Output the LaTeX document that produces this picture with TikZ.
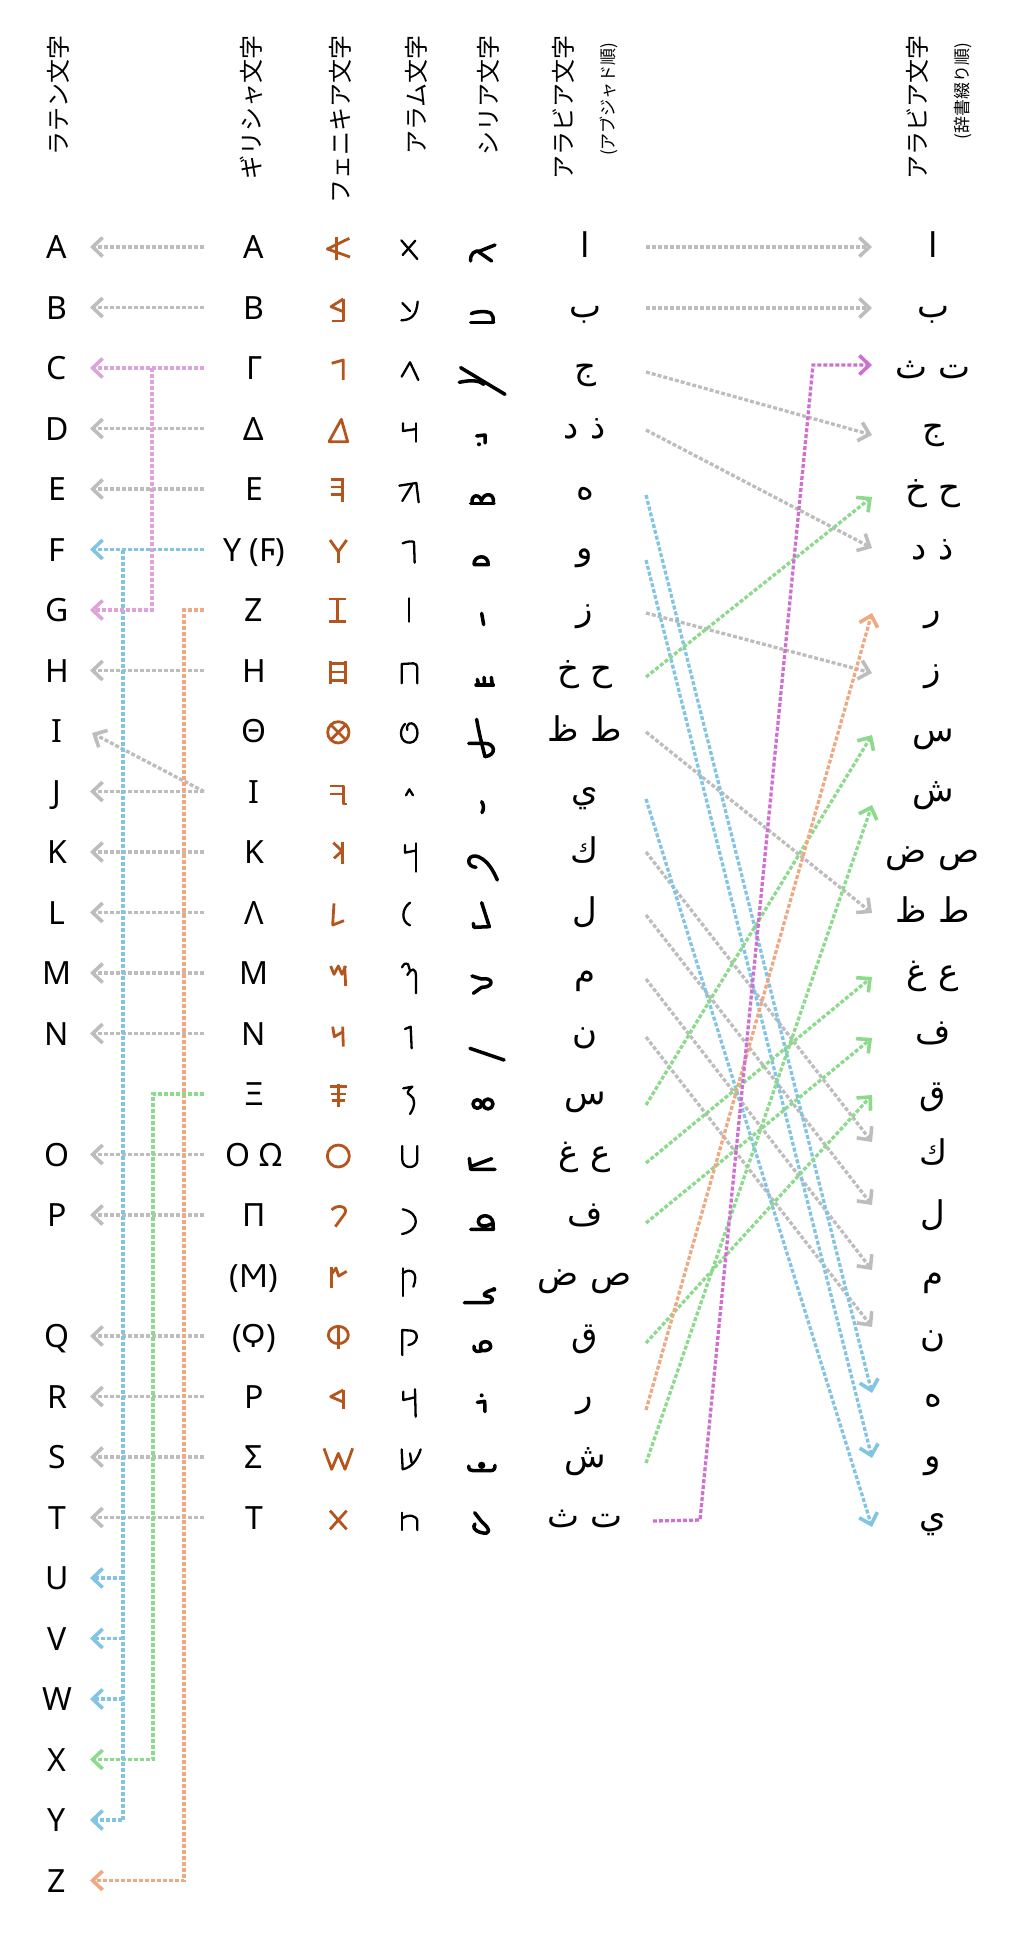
\documentclass[tikz,border=0pt]{standalone}
\usepackage{fontspec}
\setmainfont{Noto Sans}
\newfontfamily\jpfont{Noto Sans CJK JP}
\newfontfamily\arabicfont[Script=Arabic]{DejaVu Sans}
\TeXXeTstate=1
\usetikzlibrary{arrows.meta}
\definecolor{gr}{HTML}{BDBDBD}
\definecolor{pk}{HTML}{E0A2DB}
\definecolor{mg}{HTML}{CF6FCF}
\definecolor{bl}{HTML}{82C4E3}
\definecolor{gn}{HTML}{8CDA8C}
\definecolor{og}{HTML}{EEA882}
\definecolor{phx}{HTML}{B5551E}
\newcommand\myar[1]{\beginR #1\endR}
\newcommand\mypr[2]{#1\hskip0.35em #2}
\begin{document}
\begin{tikzpicture}[x=1pt,y=-1pt,
  lat/.style={font=\fontsize{32}{32}\selectfont, inner sep=0pt, anchor=base},
  ara/.style={font=\arabicfont\fontsize{34}{34}\selectfont, inner sep=0pt, anchor=base},
  hd/.style={font=\jpfont\fontsize{24}{24}\selectfont, inner sep=0pt, anchor=east, rotate=90},
  hds/.style={font=\jpfont\fontsize{17}{17}\selectfont, inner sep=0pt, anchor=east, rotate=90},
  con/.style={line width=3.3pt, dash pattern=on 4pt off 2pt},
  tip/.style={-{Straight Barb[length=10pt,width=19pt,line width=3.6pt]}},
  ph/.style={draw=phx, line width=2.8pt, line join=round},
  arm/.style={draw=black, line width=2.3pt, line cap=round, line join=round},
  sy/.style={draw=black, line width=3.5pt, line cap=round, line join=round},
]
\useasboundingbox (0,0) rectangle (1013,1937);

% headers
\node[hd] (hLat) at (58,35) {ラテン文字};
\node[hd] (hGr) at (251,35) {ギリシャ文字};
\node[hd] (hPh) at (340,35) {フェニキア文字};
\node[hd] (hAm) at (416,35) {アラム文字};
\node[hd] (hSy) at (488,35) {シリア文字};
\node[hd] (hAb) at (563,35) {アラビア文字};
\node[hds] (hAbs) at (609,43) {(アブジャド順)};
\node[hd] (hHi) at (917,35) {アラビア文字};
\node[hds] (hHis) at (963,43) {(辞書綴り順)};

% Latin
\foreach \l/\r in {A/0,B/1,C/2,D/3,E/4,F/5,G/6,H/7,I/8,J/9,K/10,L/11,M/12,N/13,O/15,P/16,Q/18,R/19,S/20,T/21,U/22,V/23,W/24,X/25,Y/26,Z/27}
  \node[lat] (L\r) at (57,{258.5+60.5*\r}) {\l};

% Greek
\foreach \g [count=\i from 0] in {Α,Β,Γ,Δ,Ε,{Υ (Ϝ)},Ζ,Η,Θ,Ι,Κ,Λ,Μ,Ν,Ξ,{Ο Ω},Π,{(Ϻ)},{(Ϙ)},Ρ,Σ,Τ}
  \node[lat] (G\i) at (254,{258.5+60.5*\i}) {\g};

% Arabic abjad order
\foreach \a [count=\i from 0] in {ا,ب,ج,{\mypr{ذ}{د}},ه,و,ز,{\mypr{ح}{خ}},{\mypr{ط}{ظ}},ي,ك,ل,م,ن,س,{\mypr{ع}{غ}},ف,{\mypr{ص}{ض}},ق,ر,ش,{\mypr{ت}{ث}}}
  \node[ara] (B\i) at (585,{257+60.5*\i}) {\myar{\a}};

% Arabic dictionary order
\foreach \a [count=\i from 0] in {ا,ب,{\mypr{ت}{ث}},ج,{\mypr{ح}{خ}},{\mypr{ذ}{د}},ر,ز,س,ش,{\mypr{ص}{ض}},{\mypr{ط}{ظ}},{\mypr{ع}{غ}},ف,ق,ك,ل,م,ن,ه,و,ي}
  \node[ara] (D\i) at (933,{257+60.5*\i}) {\myar{\a}};

% ---------- Phoenician / Aramaic / Syriac glyphs ----------
\begin{scope}[shift={(180,175)},x=0.33333pt,y=-0.33333pt]
  % Phoenician
  \draw[ph] (508,190) -- (442,222) -- (510,246); \draw[ph] (470,186) -- (470,256);
  \draw[ph] (490,372) -- (453,395) -- (490,410); \draw[ph] (490,372) -- (490,438) -- (455,438);
  \draw[ph] (455,565) -- (490,555) -- (490,615);
  \draw[ph] (447,800) -- (484,733) -- (503,800) -- cycle;
  \draw[ph] (487,908) -- (487,980); \draw[ph] (452,914) -- (487,914); \draw[ph] (452,936) -- (487,936); \draw[ph] (452,958) -- (487,958);
  % Aramaic
  \draw[arm] (664,196) -- (712,252); \draw[arm] (706,197) -- (668,240);
  \draw[arm] (667,384) -- (690,408); \draw[arm] (713,380) .. controls (710,420) and (695,435) .. (664,436);
  \draw[arm] (665,605) -- (690,562) -- (715,615);
  \draw[arm] (669,745) -- (669,768) -- (709,762); \draw[arm] (709,745) -- (709,800);
  \draw[arm] (658,932) -- (709,924) -- (716,982); \draw[arm] (696,930) -- (667,978);
  % Syriac
  \draw[sy] (872,258) .. controls (870,235) and (885,226) .. (900,228) -- (945,210); \draw[sy] (895,230) -- (935,258);
  \draw[sy] (874,416) .. controls (890,408) and (920,408) .. (932,414) .. controls (940,420) and (940,430) .. (939,442); \draw[sy] (872,442) -- (941,442);
  \draw[sy] (842,578) -- (975,658); \draw[sy] (838,622) .. controls (870,615) and (895,615) .. (912,628);
  \draw[sy] (890,783) -- (915,780) -- (915,804); \fill (897,808) circle (6);
  \draw[sy] (872,985) -- (942,985); \draw[sy] (876,985) .. controls (872,955) and (905,955) .. (905,985); \draw[sy] (905,975) .. controls (915,950) and (945,955) .. (940,985);
\end{scope}

\begin{scope}[shift={(180,530)},x=0.33333pt,y=-0.33333pt]
  % Phoenician
  \draw[ph] (450,30) -- (475,65) -- (500,30); \draw[ph] (475,65) -- (475,100);
  \draw[ph] (448,207) -- (498,207); \draw[ph] (473,207) -- (473,274); \draw[ph] (448,274) -- (498,274);
  \draw[ph] (452,392) -- (452,462); \draw[ph] (497,392) -- (497,462); \draw[ph] (452,400) -- (497,400); \draw[ph] (452,426) -- (497,426); \draw[ph] (452,452) -- (497,452);
  \draw[ph] (475,607) circle (32); \draw[ph] (452,584) -- (498,630); \draw[ph] (498,584) -- (452,630);
  \draw[ph] (450,768) -- (490,768) -- (490,822) -- (500,822); \draw[ph] (450,792) -- (490,792);
  \draw[ph] (487,935) -- (487,1002); \draw[ph] (460,938) -- (486,963) -- (462,985);
  % Aramaic
  \draw[arm] (668,40) .. controls (685,33) and (695,33) .. (702,36) -- (704,98);
  \draw[arm] (688,205) -- (688,275);
  \draw[arm] (665,460) -- (665,402) -- (700,400) .. controls (712,402) and (712,410) .. (712,420) -- (712,460);
  \draw[arm] (675,582) .. controls (655,600) and (660,640) .. (690,638) .. controls (720,636) and (718,585) .. (695,580) .. controls (685,578) and (678,590) .. (682,600);
  \draw[arm] (678,796) -- (688,778) -- (699,796);
  \draw[arm] (675,945) -- (675,968) -- (706,962); \draw[arm] (707,940) -- (707,1025);
  % Syriac
  \draw[sy] (882,104) .. controls (880,75) and (925,70) .. (925,104) -- (884,104);
  \draw[sy] (905,250) -- (911,284);
  \draw[sy] (888,465) -- (940,465); \draw[sy] (892,448) -- (896,465); \draw[sy] (912,442) -- (914,465); \draw[sy] (934,442) -- (937,465);
  \draw[sy] (890,568) .. controls (895,600) and (905,640) .. (915,680); \draw[sy] (866,640) -- (915,640) .. controls (945,640) and (952,675) .. (915,680);
  \draw[sy] (905,815) .. controls (912,825) and (912,838) .. (906,848);
  \draw[sy] (888,1012) .. controls (858,1010) and (860,975) .. (888,978) .. controls (915,985) and (935,1010) .. (952,1050);
\end{scope}

\begin{scope}[shift={(180,880)},x=0.33333pt,y=-0.33333pt]
  % Phoenician
  \draw[ph] (462,70) -- (458,135) -- (492,122);
  \draw[ph] (452,258) -- (462,283) -- (475,258) -- (486,283) -- (497,258); \draw[ph] (494,258) -- (497,318);
  \draw[ph] (458,440) -- (463,470) -- (488,456); \draw[ph] (488,440) -- (490,500);
  \draw[ph] (475,612) -- (475,680); \draw[ph] (450,620) -- (500,620); \draw[ph] (452,642) -- (498,642); \draw[ph] (456,662) -- (494,662);
  \draw[ph] (475,828) circle (33);
  \draw[ph] (455,990) .. controls (470,972) and (505,978) .. (495,1000) -- (466,1040);
  % Aramaic
  \draw[arm] (690,68) .. controls (665,85) and (662,125) .. (690,136);
  \draw[arm] (666,262) .. controls (672,250) and (678,248) .. (684,252) -- (690,272); \draw[arm] (682,285) .. controls (695,262) and (708,262) .. (708,290) -- (708,340);
  \draw[arm] (675,447) -- (692,440) -- (695,505);
  \draw[arm] (670,625) -- (697,620) .. controls (680,635) and (680,640) .. (690,645) .. controls (708,655) and (705,680) .. (690,702);
  \draw[arm] (667,798) -- (667,840) .. controls (667,868) and (712,868) .. (712,840) -- (712,798);
  \draw[arm] (668,988) .. controls (722,998) and (720,1052) .. (666,1062);
  % Syriac
  \draw[sy] (905,68) -- (928,140) -- (882,142) -- (880,130);
  \draw[sy] (876,288) -- (905,297) .. controls (940,290) and (945,322) .. (905,322) -- (880,340);
  \draw[sy] (870,505) -- (972,540);
  \draw[sy] (892,672) circle (13); \draw[sy] (924,672) circle (15);
  \draw[sy] (868,835) -- (872,868) -- (945,868); \draw[sy] (872,860) -- (935,836);
  \draw[sy] (872,1048) -- (940,1048) -- (939,1028) .. controls (935,1000) and (895,1002) .. (895,1025) .. controls (895,1040) and (915,1042) .. (938,1030);
\end{scope}

\begin{scope}[shift={(180,1240)},x=0.33333pt,y=-0.33333pt]
  % Phoenician
  \draw[ph] (455,82) -- (455,145); \draw[ph] (455,102) -- (468,84) -- (476,108) -- (500,94);
  \draw[ph] (475,285) ellipse (30 and 26); \draw[ph] (475,255) -- (475,326);
  \draw[ph] (490,450) -- (452,470) -- (490,486); \draw[ph] (490,450) -- (490,508);
  \draw[ph] (432,625) -- (455,688) -- (475,640) -- (495,688) -- (518,625);
  \draw[ph] (450,812) -- (500,868); \draw[ph] (500,812) -- (450,868);
  % Aramaic
  \draw[arm] (668,168) -- (668,85); \draw[arm] (668,100) .. controls (690,82) and (718,95) .. (700,140);
  \draw[arm] (667,345) -- (667,270) -- (695,272) .. controls (718,275) and (715,312) .. (685,315);
  \draw[arm] (670,455) -- (670,480) -- (705,472); \draw[arm] (705,448) -- (707,530);
  \draw[arm] (665,628) -- (668,688) .. controls (695,682) and (712,660) .. (722,628); \draw[arm] (690,640) -- (695,668);
  \draw[arm] (667,870) -- (667,818); \draw[arm] (667,835) .. controls (685,822) and (712,825) .. (712,845) -- (712,870);
  % Syriac
  \draw[sy] (853,188) -- (925,188) .. controls (945,185) and (940,168) .. (918,168) .. controls (905,166) and (915,155) .. (942,148); \fill (942,148) circle (7);
  \draw[sy] (882,318) .. controls (880,338) and (895,335) .. (905,332) .. controls (940,335) and (940,305) .. (915,305) .. controls (900,305) and (898,320) .. (905,332);
  \draw[sy] (892,487) -- (914,484) -- (915,515); \fill (905,466) circle (6);
  \draw[sy] (866,678) .. controls (866,690) and (872,692) .. (880,692) -- (932,692) .. controls (942,692) and (945,686) .. (945,676); \fill (905,676) circle (11);
  \draw[sy] (884,818) -- (905,845) .. controls (935,870) and (930,885) .. (905,878) .. controls (880,872) and (878,860) .. (885,852);
\end{scope}

% ---------- left connectors ----------
\foreach \r in {0,...,27} { \coordinate (lt\r) at (90,{247+60.5*\r}); }
\foreach \r in {0,...,21} { \coordinate (gs\r) at (204,{247+60.5*\r}); }
\coordinate (ltI) at (92,733);
\foreach \r in {0,1,3,4,7,9,10,11,12,13,15,16,18,19,20,21}
  \draw[con,draw=gr,tip] (gs\r) -- (lt\r);
\draw[con,draw=gr,tip] (gs9) -- (ltI);

\coordinate (ok1) at (184,610); \coordinate (ok2) at (184,1880.5);
\draw[con,draw=og,tip] (gs6) -- (ok1) -- (ok2) -- (lt27);
\coordinate (gk1) at (153,1094); \coordinate (gk2) at (153,1759.5);
\draw[con,draw=gn,tip] (gs14) -- (gk1) -- (gk2) -- (lt25);
\coordinate (bk1) at (123,549.5); \coordinate (bk2) at (123,1820);
\draw[con,draw=bl,tip] (gs5) -- (lt5);
\draw[con,draw=bl,tip] (bk1) -- (bk2) -- (lt26);
\foreach \r in {22,23,24} { \coordinate (bb\r) at (123,{247+60.5*\r}); \draw[con,draw=bl,tip] (bb\r) -- (lt\r); }
\coordinate (mk1) at (152,368); \coordinate (mk2) at (152,610);
\draw[con,draw=pk,tip] (gs2) -- (lt2);
\draw[con,draw=pk,tip] (mk1) -- (mk2) -- (lt6);

% ---------- right connectors ----------
\foreach \n/\sy in {0/247,1/308,2/372,3/430,4/495,5/560,6/613,7/677,8/732,9/799,10/852,11/915,12/979,13/1037,14/1105,15/1163,16/1223,18/1343,19/1410,20/1463}
  \coordinate (as\n) at (646,\sy);
\foreach \n/\ty in {0/247,1/308,2/365,3/435,4/497,5/548,6/613,7/673,8/735,9/805,11/913,12/977,13/1038,14/1095,15/1142,16/1205,17/1270,18/1327,19/1393,20/1458,21/1527}
  \coordinate (dt\n) at (872,\ty);
% gray
\foreach \a/\d in {0/0,1/1,2/3,3/5,6/7,8/11,10/15,11/16,12/17,13/18}
  \draw[con,draw=gr,tip] (as\a) -- (dt\d);
% blue
\foreach \a/\d in {4/19,5/20,9/21}
  \draw[con,draw=bl,tip] (as\a) -- (dt\d);
% green
\foreach \a/\d in {7/4,14/8,15/12,16/13,18/14,20/9}
  \draw[con,draw=gn,tip] (as\a) -- (dt\d);
% orange
\draw[con,draw=og,tip] (as19) -- (dt6);
% magenta
\coordinate (ms) at (653,1521); \coordinate (mc1) at (700,1520); \coordinate (mc2) at (813,365);
\draw[con,draw=mg,tip] (ms) -- (mc1) -- (mc2) -- (dt2);
\end{tikzpicture}
\end{document}
